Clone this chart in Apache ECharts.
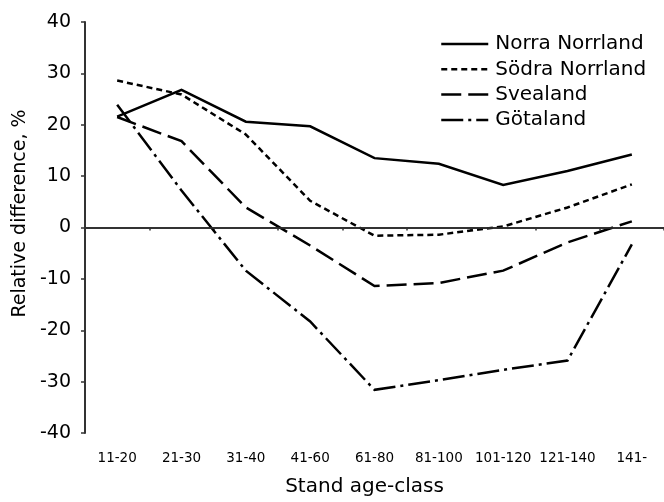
<!DOCTYPE html>
<html>
<head>
<meta charset="utf-8">
<script src="https://cdn.jsdelivr.net/npm/echarts@6/dist/echarts.min.js"></script>
<style>
html,body{margin:0;padding:0;background:#fff;}
#chart{width:664px;height:502px;}
</style>
</head>
<body>
<div id="chart"></div>
<script>
const categories = ['11-20','21-30','31-40','41-60','61-80','81-100','101-120','121-140','141-'];
const norraNorrland = [21.6, 26.8, 20.6, 19.7, 13.5, 12.4, 8.3, 11.0, 14.2];
const sodraNorrland = [28.6, 25.9, 18.1, 5.2, -1.6, -1.4, 0.2, 3.9, 8.4];
const svealand = [21.5, 16.8, 3.9, -3.5, -11.4, -10.8, -8.4, -2.9, 1.2];
const gotaland = [23.9, 7.2, -8.4, -18.3, -31.6, -29.7, -27.7, -25.9, -3.3];
const seriesNames = ['Norra Norrland', 'Södra Norrland', 'Svealand', 'Götaland'];

const font = 'DejaVu Sans, Verdana, sans-serif';
const chart = echarts.init(document.getElementById('chart'), null, {renderer: 'canvas'});

function lineSeries(name, data, dash) {
  return {
    name: name,
    type: 'line',
    data: data,
    symbol: 'none',
    showSymbol: false,
    smooth: false,
    animation: false,
    lineStyle: {color: '#000', width: 2.5, type: dash, join: 'miter', cap: 'butt'},
    itemStyle: {color: '#000'}
  };
}

const series = [
  lineSeries(seriesNames[0], norraNorrland, 'solid'),
  lineSeries(seriesNames[1], sodraNorrland, [6, 4]),
  lineSeries(seriesNames[2], svealand, [20, 7]),
  lineSeries(seriesNames[3], gotaland, [22, 5, 3, 5])
];
series[0].markLine = {
  silent: true,
  symbol: 'none',
  label: {show: false},
  lineStyle: {color: '#333', width: 1.5, type: 'solid'},
  data: [{yAxis: 0}],
  animation: false
};

chart.setOption({
  animation: false,
  backgroundColor: '#fff',
  grid: {left: 85, right: 0, top: 22, bottom: 67, containLabel: false},
  legend: {
    data: seriesNames,
    orient: 'vertical',
    left: 435,
    top: 29,
    itemWidth: 47,
    itemHeight: 14,
    itemGap: 5.3,
    itemStyle: {opacity: 0, borderWidth: 0},
    lineStyle: {width: 2.5},
    textStyle: {fontFamily: font, fontSize: 20, color: '#000', lineHeight: 20, padding: [0, 0, 0, 2]},
    selectedMode: false
  },
  xAxis: {
    type: 'category',
    data: categories,
    boundaryGap: true,
    name: 'Stand age-class',
    nameLocation: 'middle',
    nameGap: 44,
    nameTextStyle: {fontFamily: font, fontSize: 20, color: '#000', padding: [0, 20, 0, 0]},
    axisLine: {show: true, lineStyle: {color: '#333', width: 2}},
    axisTick: {show: true, inside: false, length: 3, alignWithLabel: false, lineStyle: {color: '#333', width: 1.5}},
    axisLabel: {fontFamily: font, fontSize: 13.5, color: '#000', margin: 18, interval: 0},
    splitLine: {show: false}
  },
  yAxis: {
    type: 'value',
    min: -40,
    max: 40,
    interval: 10,
    name: 'Relative difference, %',
    nameLocation: 'middle',
    nameRotate: 90,
    nameGap: 53,
    nameTextStyle: {fontFamily: font, fontSize: 19, color: '#000', padding: [0, 0, 0, 28]},
    axisLine: {show: true, lineStyle: {color: '#333', width: 2}},
    axisTick: {show: true, inside: false, length: 4, lineStyle: {color: '#333', width: 1.5}},
    axisLabel: {fontFamily: font, fontSize: 19, color: '#000', margin: 14},
    splitLine: {show: false}
  },
  series: series
});
</script>
</body>
</html>
